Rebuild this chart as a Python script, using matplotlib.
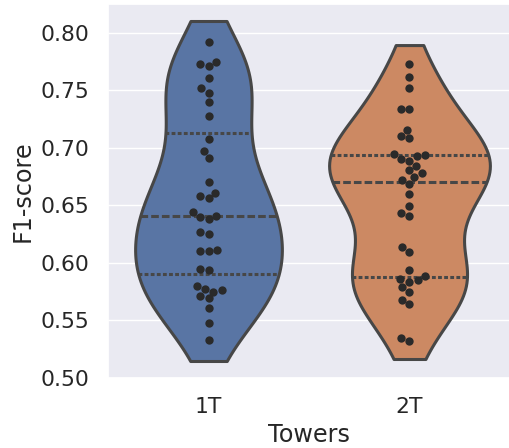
import matplotlib
matplotlib.use("Agg")
import matplotlib.pyplot as plt
import pandas as pd
import seaborn as sns

# F1-scores, one list per tower setup
towers = ["1T", "2T"]
f1_1t = [0.792, 0.775, 0.773, 0.771, 0.761, 0.752, 0.748, 0.740, 0.7275,
         0.708, 0.697, 0.691, 0.670, 0.661, 0.658, 0.656, 0.644, 0.641,
         0.640, 0.638, 0.627, 0.625, 0.611, 0.610, 0.610, 0.595, 0.594,
         0.580, 0.577, 0.576, 0.575, 0.571, 0.569, 0.561, 0.548, 0.533]
f1_2t = [0.7734, 0.7613, 0.7518, 0.7336, 0.7336, 0.7157, 0.710, 0.7088,
         0.694, 0.6943, 0.6926, 0.690, 0.6883, 0.684, 0.6805, 0.678, 0.6747,
         0.6724, 0.6684, 0.6597, 0.6493, 0.643, 0.6407, 0.614, 0.6097,
         0.5936, 0.5887, 0.5859, 0.585, 0.583, 0.5789, 0.575, 0.5679,
         0.5644, 0.5347, 0.5324]

df = pd.DataFrame({
    "Towers": [towers[0]] * len(f1_1t) + [towers[1]] * len(f1_2t),
    "F1-score": f1_1t + f1_2t,
})

sns.set_theme(style="darkgrid", font_scale=1.43)
pal = sns.color_palette("deep")

fig = plt.figure(figsize=(5.09, 4.48), dpi=100)
ax = fig.add_axes([108 / 509, 1 - 378 / 448, 402 / 509, 374 / 448])

# one violin per call so the 1T one can be a little slimmer, as in the original
for tw, w, c in zip(towers, [0.73, 0.8], pal[:2]):
    sns.violinplot(data=df[df["Towers"] == tw], x="Towers", y="F1-score",
                   order=towers, color=c, width=w, inner="quart", cut=0.5,
                   linewidth=2.2, linecolor="#474747", ax=ax)
sns.swarmplot(data=df, x="Towers", y="F1-score", order=towers,
              color="#2a2a2a", size=6, ax=ax)

ax.set_xlim(-0.5, 1.5)
ax.set_yticks([0.50, 0.55, 0.60, 0.65, 0.70, 0.75, 0.80])
ax.tick_params(axis="both", pad=7.5)
ax.set_xlabel("Towers", labelpad=4.5)
ax.set_ylabel("F1-score", labelpad=4)

fig.savefig("out.png", dpi=100)
